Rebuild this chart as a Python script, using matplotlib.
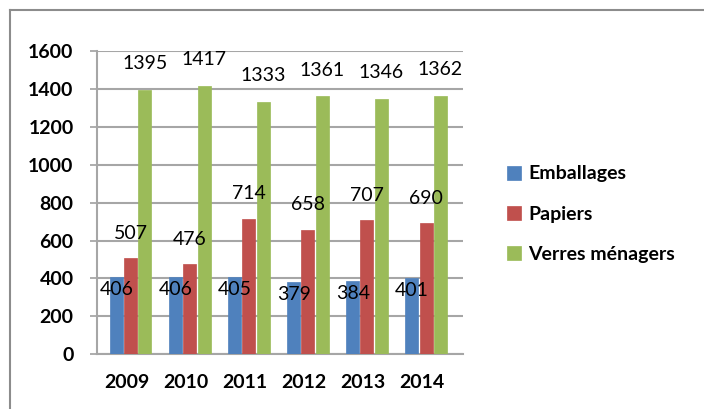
import matplotlib.pyplot as plt
from matplotlib.lines import Line2D
import numpy as np

plt.rcParams['font.family'] = ['Lato', 'DejaVu Sans']

annees = ["2009", "2010", "2011", "2012", "2013", "2014"]
emballages = [406, 406, 405, 379, 384, 401]
papiers = [507, 476, 714, 658, 707, 690]
verres = [1395, 1417, 1333, 1361, 1346, 1362]

series = [("Emballages", emballages, "#4F81BD", -0.17, -9),
          ("Papiers", papiers, "#C0504D", 0.07, 18),
          ("Verres ménagers", verres, "#9BBB59", 0.31, 19)]

fig = plt.figure(figsize=(7.04, 4.09), dpi=100)
ax = fig.add_axes([0.138, 0.134, 0.52, 0.741])

x = np.arange(len(annees))
for nom, valeurs, couleur, decal, dy in series:
    barres = ax.bar(x + decal, valeurs, width=0.22, color=couleur,
                    edgecolor=couleur, linewidth=0.5, label=nom, zorder=3)
    for b, v in zip(barres, valeurs):
        ax.annotate(str(v), (b.get_x() + b.get_width() / 2, v),
                    xytext=(0, dy), textcoords="offset points",
                    ha="center", va="center", fontsize=14, zorder=4)

ax.set_ylim(0, 1600)
ax.set_xlim(-0.5, 5.7)
ax.set_yticks(range(0, 1601, 200))
ax.set_xticks(x)
ax.set_xticklabels(annees, fontsize=14, fontweight="bold")
ax.tick_params(axis="y", labelsize=14, length=5, color="#a0a0a0", width=1.2, pad=12)
for t in ax.get_yticklabels():
    t.set_fontweight("bold")
ax.tick_params(axis="x", length=0, pad=14)
ax.grid(axis="y", color="#a6a6a6", linewidth=1.5, zorder=0)
for s in ["top", "right"]:
    ax.spines[s].set_visible(False)
for s in ["left", "bottom"]:
    ax.spines[s].set_color("#a6a6a6")
    ax.spines[s].set_linewidth(1.5)

leg = fig.legend(loc="center left", bbox_to_anchor=(0.72, 0.476), frameon=False,
                 prop={"size": 14, "weight": "bold"}, handlelength=0.75,
                 handleheight=0.75, handletextpad=0.35, labelspacing=1.2,
                 borderpad=0, borderaxespad=0)

fig.add_artist(Line2D([0.014, 1.0], [0.976, 0.976], color="#8c8c8c", linewidth=1.5))
fig.add_artist(Line2D([0.014, 0.014], [0.0, 0.976], color="#8c8c8c", linewidth=1.5))

fig.savefig("out.png", dpi=100)
